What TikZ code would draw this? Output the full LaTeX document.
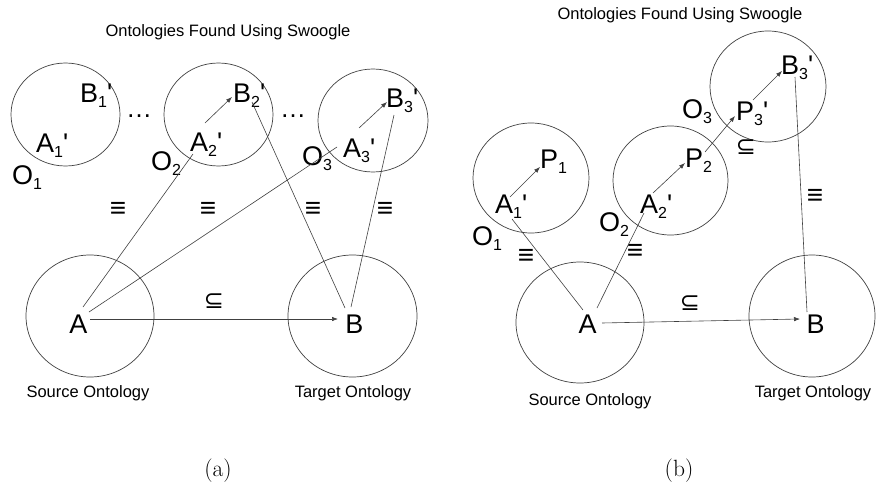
\documentclass[tikz,border=0pt]{standalone}
\usepackage{fontspec}
\newfontfamily\arial{Liberation Sans}
\newfontfamily\symfont{DejaVu Sans}
\usetikzlibrary{arrows.meta,shapes.geometric}
\newcommand\lbl[3]{#1\raisebox{-5pt}{\fontsize{16}{16}\selectfont #2}#3}
\begin{document}
\begin{tikzpicture}[x=1pt,y=-1pt,
  biglbl/.style={font=\arial\fontsize{27}{27}\selectfont, inner sep=0pt, anchor=base west},
  txtlbl/.style={font=\arial\fontsize{16.5}{18}\selectfont, inner sep=0pt, anchor=base},
  ell/.style={ellipse, draw=black!75, line width=0.7pt, inner sep=0pt},
  conn/.style={draw=black!75, line width=0.6pt},
  arr/.style={conn, -{Latex[length=6pt,width=4.5pt]}},
  eqv/.style={font=\arial\fontsize{28}{28}\selectfont, inner sep=0pt},
  subs/.style={font=\symfont\fontsize{24}{24}\selectfont, inner sep=0pt},
  dotsn/.style={font=\arial\fontsize{26}{26}\selectfont, inner sep=0pt, anchor=base},
  figlbl/.style={font=\fontsize{23.5}{24}\selectfont, inner sep=0pt, anchor=base}]
\useasboundingbox (0,0) rectangle (876,485);

% ---------------- panel (a) ----------------
\node[txtlbl] (ta) at (228,36) {Ontologies Found Using Swoogle};
\node[ell, minimum width=109pt, minimum height=103pt] (ca1) at (65.5,114.5) {};
\node[ell, minimum width=109pt, minimum height=103pt] (ca2) at (218.5,114.5) {};
\node[ell, minimum width=110pt, minimum height=103pt] (ca3) at (373,120.5) {};
\node[ell, minimum width=128pt, minimum height=122pt] (csa) at (90,316) {};
\node[ell, minimum width=129pt, minimum height=122pt] (cta) at (352.5,316) {};

\node[biglbl] (aB1) at (80,102) {\lbl{B}{1}{'}};
\node[biglbl] (aA1) at (36,152) {\lbl{A}{1}{'}};
\node[biglbl] (aO1) at (12,184) {\lbl{O}{1}{}};
\node[biglbl] (aB2) at (233,102) {\lbl{B}{2}{'}};
\node[biglbl] (aA2) at (190,151) {\lbl{A}{2}{'}};
\node[biglbl] (aO2) at (151,170) {\lbl{O}{2}{}};
\node[biglbl] (aB3) at (386,107) {\lbl{B}{3}{'}};
\node[biglbl] (aA3) at (343,157) {\lbl{A}{3}{'}};
\node[biglbl] (aO3) at (302,165) {\lbl{O}{3}{}};
\node[dotsn] (ad1) at (139,117) {…};
\node[dotsn] (ad2) at (293,117) {…};
\node[biglbl, anchor=base] (aA) at (78.5,333) {A};
\node[biglbl, anchor=base] (aB) at (354.5,333) {B};
\node[txtlbl] (sa) at (88,397) {Source Ontology};
\node[txtlbl] (tga) at (353,397) {Target Ontology};

\node[eqv] (ae1) at (118,210) {≡};
\node[eqv] (ae2) at (208,210) {≡};
\node[eqv] (ae3) at (313,210) {≡};
\node[eqv] (ae4) at (385,210) {≡};
\node[subs] (as1) at (214,301) {⊆};

\coordinate (pa1) at (205,123); \coordinate (pa2) at (232,97);
\coordinate (pa3) at (359,128); \coordinate (pa4) at (387,102);
\coordinate (la1) at (193,154); \coordinate (la2) at (83,307);
\coordinate (la3) at (337,147); \coordinate (la4) at (89,312);
\coordinate (la5) at (252,102); \coordinate (la6) at (345,308);
\coordinate (la7) at (394,115); \coordinate (la8) at (351,307);
\coordinate (ra1) at (90,319); \coordinate (ra2) at (338,319);

\draw[arr] (pa1) -- (pa2);
\draw[arr] (pa3) -- (pa4);
\draw[conn] (la1) -- (la2);
\draw[conn] (la3) -- (la4);
\draw[conn] (la5) -- (la6);
\draw[conn] (la7) -- (la8);
\draw[arr] (ra1) -- (ra2);

\node[figlbl] (capa) at (218,476) {(a)};

% ---------------- panel (b) ----------------
\node[txtlbl] (tb) at (680,19) {Ontologies Found Using Swoogle};
\node[ell, minimum width=116pt, minimum height=110pt] (cb1) at (531,178) {};
\node[ell, minimum width=115pt, minimum height=109pt] (cb2) at (670.5,180.5) {};
\node[ell, minimum width=116pt, minimum height=111pt] (cb3) at (768,86.5) {};
\node[ell, minimum width=128pt, minimum height=121pt] (csb) at (580,322.5) {};
\node[ell, minimum width=126pt, minimum height=122pt] (ctb) at (812,316) {};

\node[biglbl] (bB3) at (781,74) {\lbl{B}{3}{'}};
\node[biglbl] (bP3) at (736,120) {\lbl{P}{3}{'}};
\node[biglbl] (bO3) at (682,118) {\lbl{O}{3}{}};
\node[biglbl] (bP2) at (685,167) {\lbl{P}{2}{}};
\node[biglbl] (bP1) at (540,168) {\lbl{P}{1}{}};
\node[biglbl] (bA1) at (495,213) {\lbl{A}{1}{'}};
\node[biglbl] (bA2) at (640,213) {\lbl{A}{2}{'}};
\node[biglbl] (bO1) at (472,245) {\lbl{O}{1}{}};
\node[biglbl] (bO2) at (599,231) {\lbl{O}{2}{}};
\node[biglbl, anchor=base] (bA) at (587.5,333) {A};
\node[biglbl, anchor=base] (bB) at (815.5,333) {B};
\node[txtlbl] (sb) at (590,405) {Source Ontology};
\node[txtlbl] (tgb) at (813,397) {Target Ontology};

\node[eqv] (be1) at (526,257) {≡};
\node[eqv] (be2) at (635,252) {≡};
\node[eqv] (be3) at (815,197) {≡};
\node[subs] (bs1) at (746,147) {⊆};
\node[subs] (bs2) at (690,303) {⊆};

\coordinate (pb1) at (510,197); \coordinate (pb2) at (540,167);
\coordinate (pb3) at (653,193); \coordinate (pb4) at (685,163);
\coordinate (pb5) at (705,152); \coordinate (pb6) at (735,116);
\coordinate (pb7) at (753,100); \coordinate (pb8) at (782,71);
\coordinate (lb1) at (512,219); \coordinate (lb2) at (583,310);
\coordinate (lb3) at (644,213); \coordinate (lb4) at (597,308);
\coordinate (lb5) at (795,77);  \coordinate (lb6) at (807,312);
\coordinate (rb1) at (602,323); \coordinate (rb2) at (800,319);

\draw[arr] (pb1) -- (pb2);
\draw[arr] (pb3) -- (pb4);
\draw[arr] (pb5) -- (pb6);
\draw[arr] (pb7) -- (pb8);
\draw[conn] (lb1) -- (lb2);
\draw[conn] (lb3) -- (lb4);
\draw[conn] (lb5) -- (lb6);
\draw[arr] (rb1) -- (rb2);

\node[figlbl] (capb) at (679,476) {(b)};
\end{tikzpicture}
\end{document}
